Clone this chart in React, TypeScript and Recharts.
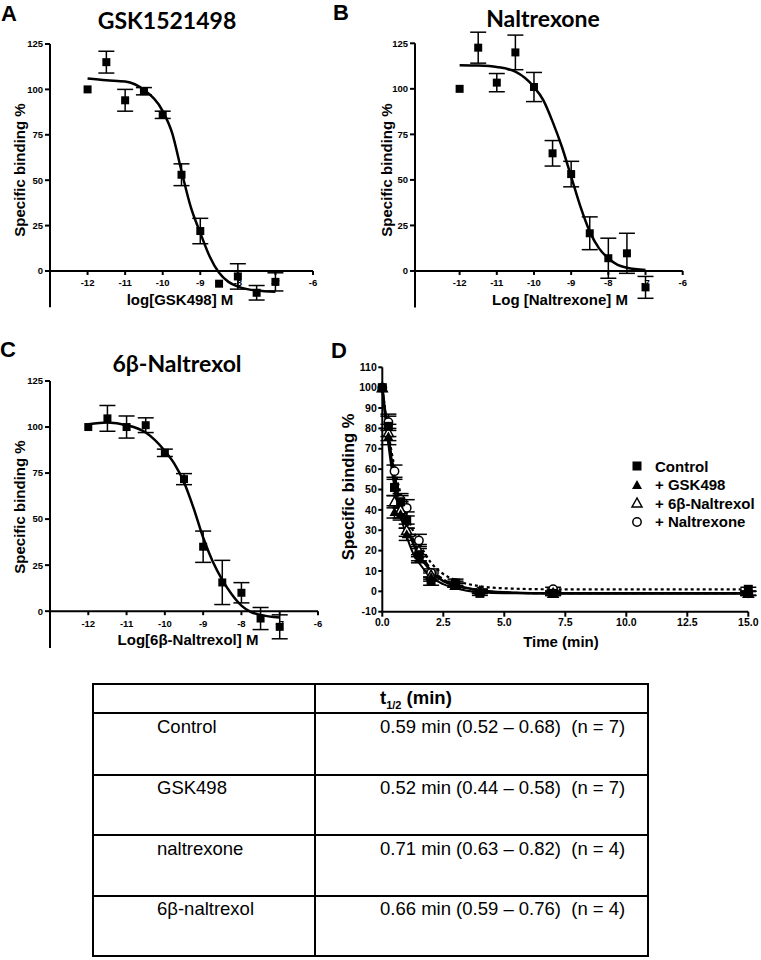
import React from 'react';
import { ComposedChart, Scatter, Line, XAxis, YAxis, ErrorBar, ReferenceLine, ReferenceDot } from 'recharts';

// competition binding, log M
const logConc = [-12, -11.5, -11, -10.5, -10, -9.5, -9, -8.5, -8, -7.5, -7];
const gskMean = [100, 115, 94, 99, 86, 53, 22, -7, -3, -12, -6];
const gskSem = [0, 6, 6, 2, 2, 6, 7, 0, 7, 4, 5];
const naltrexoneMean = [100, 122.6, 103.4, 120, 101, 64.6, 53.2, 20.7, 7, 9.7, -9];
const naltrexoneSem = [0, 8.5, 5, 9.5, 8, 7, 7, 9, 11, 11, 6];
const naltrexolMean = [100, 104.7, 100, 101, 86, 71.7, 35, 15.6, 10, -4, -8.5];
const naltrexolSem = [0, 7, 6, 4, 2, 3, 8.5, 12, 5.5, 6, 6.5];

// fitted curves
const fitConc = [-12, -11.5, -11, -10.5, -10, -9.75, -9.5, -9.25, -9, -8.75, -8.5, -8.25, -8, -7.75, -7.5, -7];
const gskFit = [106, 105, 104.3, 99.7, 88, 76, 55, 35, 21, 8, -1, -6, -8.6, -10, -10.8, -11.4];
const naltrexoneFit = [113, 112.8, 112, 109.4, 101, 93.8, 82, 68.2, 51.8, 35.3, 21.6, 12.4, 7, 3.3, 1.8, 0.5];
const naltrexolFit = [101.5, 102.4, 101, 97, 87, 80, 70, 56, 40, 27, 17, 9, 3, -0.5, -2, -3.5];

const logTicks = [-12, -11, -10, -9, -8, -7, -6];
const bindingTicks = [0, 25, 50, 75, 100, 125];

// dissociation time course, min
const timeMin = [0, 0.25, 0.5, 0.75, 1, 1.5, 2, 3, 4, 7, 15];
const controlMean = [100, 81, 51, 44, 35, 18, 5, 4, -1, -1, 1];
const controlSem = [0, 5, 4, 3, 4, 3, 2, 2, 1, 1, 1];
const gskDissMean = [100, 76, 39, 38, 28, 16, 7, 3, 0, -1, -1];
const gskDissSem = [0, 4, 3, 3, 3, 2, 2, 1, 1, 1, 1];
const naltrexolDissMean = [100, 78, 44, 40, 30, 20, 8, 3, 0, -1, -1];
const naltrexolDissSem = [0, 4, 3, 4, 3, 3, 2, 1, 1, 1, 1];
const naltrexoneDissMean = [100, 83, 59, 45, 41, 25, 9, 4, 0, 1, -1];
const naltrexoneDissSem = [0, 4, 3, 3, 4, 3, 2, 1, 1, 1, 1];

const fitTime = [0, 0.25, 0.5, 0.75, 1, 1.25, 1.5, 2, 2.5, 3, 4, 5, 7, 10, 15];
const controlFit = [100, 75, 56, 42, 32, 24, 18, 10, 5, 3, 0.5, -0.5, -1, -1, -1];
const gskDissFit = [100, 72, 51, 37, 27, 19, 14, 7, 3.5, 1.5, -0.5, -1, -1, -1, -1];
const naltrexolDissFit = [100, 77, 58, 45, 34, 26, 20, 11, 6, 3, 0.5, -0.5, -1, -1, -1];
const naltrexoneDissFit = [100, 78, 61, 48, 38, 30, 24, 14, 8.5, 5.5, 2.5, 1.5, 1, 1, 1];

const timeTicks = [0, 2.5, 5, 7.5, 10, 12.5, 15];
const dissTicks = [-10, 0, 10, 20, 30, 40, 50, 60, 70, 80, 90, 100, 110];

const legendLabels = ['Control', '+ GSK498', '+ 6β-Naltrexol', '+ Naltrexone'];

const tableRows = [
  ['Control', '0.59 min (0.52 – 0.68)  (n = 7)'],
  ['GSK498', '0.52 min (0.44 – 0.58)  (n = 7)'],
  ['naltrexone', '0.71 min (0.63 – 0.82)  (n = 4)'],
  ['6β-naltrexol', '0.66 min (0.59 – 0.76)  (n = 4)'],
];

const SANS = '"Liberation Sans", Arial, sans-serif';
const TITLE = 'Lato, "Open Sans", sans-serif';

const axisStroke = { stroke: '#000', strokeWidth: 2 };
const tickFont = { fill: '#000', fontSize: 9.5, fontWeight: 700, fontFamily: SANS };

type Shape = 'square' | 'triangle' | 'openTriangle' | 'circle';

function marker(kind: Shape, cx: number, cy: number) {
  if (kind === 'square') return <rect x={cx - 4.5} y={cy - 4.5} width={9} height={9} fill="#000" />;
  if (kind === 'circle') return <circle cx={cx} cy={cy} r={4.2} fill="#fff" stroke="#000" strokeWidth={1.5} />;
  const pts = `${cx},${cy - 5} ${cx - 5},${cy + 4} ${cx + 5},${cy + 4}`;
  return kind === 'triangle'
    ? <polygon points={pts} fill="#000" />
    : <polygon points={pts} fill="#fff" stroke="#000" strokeWidth={1.5} />;
}

const smallSquare = (p: any) => <rect x={p.cx - 4} y={p.cy - 4} width={8} height={8} fill="#000" />;

const logTick = (label: string) => (p: any) => (
  <g>
    <line x1={p.cx} y1={p.cy} x2={p.cx} y2={p.cy + 4} stroke="#000" strokeWidth={2} />
    <text x={p.cx} y={p.cy + 12} textAnchor="middle" dominantBaseline="central" {...tickFont}>{label}</text>
  </g>
);

function Lbl({ x, y, size, rotate, font, weight, children }: any) {
  return (
    <div
      style={{
        position: 'absolute', left: x, top: y,
        transform: `translate(-50%,-50%)${rotate ? ' rotate(-90deg)' : ''}`,
        fontFamily: font ?? SANS, fontWeight: weight ?? 700, fontSize: size,
        lineHeight: 1, whiteSpace: 'pre', color: '#000',
      }}
    >
      {children}
    </div>
  );
}

function DosePanel({ left, top, width, height, margin, xDomain, mean, sem, fit }: any) {
  const pts = logConc.map((x, i) => ({ x, y: mean[i], err: sem[i] }));
  const curve = fitConc.map((x, i) => ({ x, y: fit[i] }));
  return (
    <div className="nc" style={{ position: 'absolute', left, top }}>
      <ComposedChart width={width} height={height} margin={margin}>
        <XAxis type="number" dataKey="x" domain={xDomain} hide />
        <YAxis
          type="number" domain={[-20, 125]} allowDataOverflow ticks={bindingTicks} width={50}
          axisLine={axisStroke} tickLine={axisStroke} tick={tickFont} tickSize={5} tickMargin={2}
        />
        <ReferenceLine y={0} stroke="#000" strokeWidth={2} />
        {logTicks.map(t => (
          <ReferenceDot key={t} x={t} y={0} ifOverflow="visible" shape={logTick(String(t))} />
        ))}
        <Line data={curve} dataKey="y" type="monotone" stroke="#000" strokeWidth={2.5} dot={false} isAnimationActive={false} />
        <Scatter data={pts} dataKey="y" fill="#000" shape={smallSquare} isAnimationActive={false}>
          <ErrorBar dataKey="err" direction="y" width={8} stroke="#000" strokeWidth={1.5} />
        </Scatter>
      </ComposedChart>
    </div>
  );
}

const dissSeries = [
  { name: 'naltrexone', mean: naltrexoneDissMean, sem: naltrexoneDissSem, fit: naltrexoneDissFit, shape: 'circle' as Shape, dash: '3 3', w: 2.2 },
  { name: 'naltrexol', mean: naltrexolDissMean, sem: naltrexolDissSem, fit: naltrexolDissFit, shape: 'openTriangle' as Shape, dash: '6 3', w: 2 },
  { name: 'gsk', mean: gskDissMean, sem: gskDissSem, fit: gskDissFit, shape: 'triangle' as Shape, dash: undefined, w: 2 },
  { name: 'control', mean: controlMean, sem: controlSem, fit: controlFit, shape: 'square' as Shape, dash: undefined, w: 2.6 },
];
const legendShapes: Shape[] = ['square', 'triangle', 'openTriangle', 'circle'];

function DissociationPanel() {
  return (
    <div className="nc" style={{ position: 'absolute', left: 330, top: 330 }}>
      <ComposedChart width={431} height={320} margin={{ top: 37.3, right: 12.7, bottom: 18.3, left: 0 }}>
        <XAxis
          type="number" dataKey="x" domain={[0, 15]} ticks={timeTicks} height={20}
          tickFormatter={(v: number) => v.toFixed(1)}
          axisLine={axisStroke} tickLine={axisStroke} tick={{ ...tickFont, fontSize: 10.5 }} tickSize={5} tickMargin={2}
        />
        <YAxis
          type="number" domain={[-10, 110]} ticks={dissTicks} width={52.3}
          axisLine={axisStroke} tickLine={axisStroke} tick={{ ...tickFont, fontSize: 10.5 }} tickSize={4} tickMargin={1.5}
        />
        {dissSeries.map(s => (
          <Line
            key={`fit-${s.name}`} data={fitTime.map((x, i) => ({ x, y: s.fit[i] }))} dataKey="y" type="monotone"
            stroke="#000" strokeWidth={s.w} strokeDasharray={s.dash} dot={false} isAnimationActive={false}
          />
        ))}
        {dissSeries.map(s => (
          <Scatter
            key={`pts-${s.name}`} data={timeMin.map((x, i) => ({ x, y: s.mean[i], err: s.sem[i] }))} dataKey="y"
            fill="#000" shape={(p: any) => marker(s.shape, p.cx, p.cy)} isAnimationActive={false}
          >
            <ErrorBar dataKey="err" direction="y" width={8} stroke="#000" strokeWidth={1.5} />
          </Scatter>
        ))}
      </ComposedChart>
    </div>
  );
}

function HalfLifeTable() {
  const rowLines = [713, 775, 835, 896];
  const textY = [727, 788, 849, 909];
  const cell = { position: 'absolute' as const, fontFamily: SANS, fontSize: 18.5, lineHeight: '20px', whiteSpace: 'pre' as const };
  return (
    <>
      <div style={{ position: 'absolute', left: 92, top: 683, width: 557, height: 274, border: '2px solid #000', boxSizing: 'border-box' }} />
      <div style={{ position: 'absolute', left: 314, top: 683, width: 2, height: 274, background: '#000' }} />
      {rowLines.map(y => (
        <div key={y} style={{ position: 'absolute', left: 92, top: y - 1, width: 557, height: 2, background: '#000' }} />
      ))}
      <div style={{ ...cell, left: 380, top: 688, fontWeight: 700 }}>
        t<sub style={{ fontSize: 11 }}>1/2</sub> (min)
      </div>
      {tableRows.map((r, i) => (
        <React.Fragment key={r[0]}>
          <div style={{ ...cell, left: 157, top: textY[i] - 10 }}>{r[0]}</div>
          <div style={{ ...cell, left: 380, top: textY[i] - 10 }}>{r[1]}</div>
        </React.Fragment>
      ))}
    </>
  );
}

export default function App() {
  return (
    <div style={{ position: 'absolute', left: 0, top: 0, width: 761, height: 960, background: '#fff', overflow: 'hidden' }}>
      <style>{'.nc g[clip-path]{clip-path:none !important}'}</style>

      <DosePanel left={0} top={0} width={330} height={320} margin={{ top: 44, right: 17, bottom: 12.7, left: 0 }}
        xDomain={[-13, -6]} mean={gskMean} sem={gskSem} fit={gskFit} />
      <DosePanel left={365} top={0} width={330} height={320} margin={{ top: 43.3, right: 12.3, bottom: 12.6, left: 0 }}
        xDomain={[-13.2, -6]} mean={naltrexoneMean} sem={naltrexoneSem} fit={naltrexoneFit} />
      <DosePanel left={0} top={330} width={330} height={330} margin={{ top: 51, right: 12, bottom: 12, left: 0 }}
        xDomain={[-13, -6]} mean={naltrexolMean} sem={naltrexolSem} fit={naltrexolFit} />
      <DissociationPanel />

      <Lbl x={9} y={14} size={22}>A</Lbl>
      <Lbl x={341} y={13} size={22}>B</Lbl>
      <Lbl x={8} y={350} size={22}>C</Lbl>
      <Lbl x={339} y={351} size={22}>D</Lbl>

      <Lbl x={167} y={20} size={23} font={TITLE}>GSK1521498</Lbl>
      <Lbl x={543} y={18} size={23} font={TITLE}>Naltrexone</Lbl>
      <Lbl x={177} y={363} size={23} font={TITLE}>6β-Naltrexol</Lbl>

      <Lbl x={19} y={170} size={15} rotate>Specific binding %</Lbl>
      <Lbl x={386} y={170} size={15} rotate>Specific binding %</Lbl>
      <Lbl x={19} y={507} size={15} rotate>Specific binding %</Lbl>
      <Lbl x={348} y={487} size={16.5} rotate>Specific binding %</Lbl>

      <Lbl x={180} y={299} size={15}>log[GSK498] M</Lbl>
      <Lbl x={560} y={299} size={15}>Log [Naltrexone] M</Lbl>
      <Lbl x={188} y={639} size={15}>Log[6β-Naltrexol] M</Lbl>
      <Lbl x={561} y={641} size={15}>Time (min)</Lbl>

      <div style={{ position: 'absolute', left: 628, top: 457 }}>
        {legendLabels.map((l, i) => (
          <div key={l} style={{ display: 'flex', alignItems: 'center', height: 18.5 }}>
            <svg width={18} height={14}>{marker(legendShapes[i], 9, 7)}</svg>
            <span style={{ fontFamily: SANS, fontWeight: 700, fontSize: 15, marginLeft: 9, lineHeight: 1 }}>{l}</span>
          </div>
        ))}
      </div>

      <HalfLifeTable />
    </div>
  );
}
